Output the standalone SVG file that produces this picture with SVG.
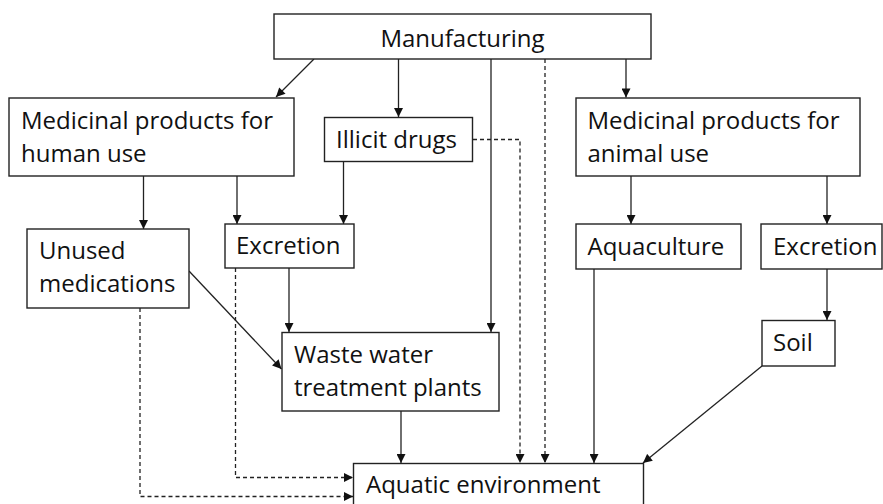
<svg xmlns="http://www.w3.org/2000/svg" width="883" height="504" viewBox="0 0 883 504">
<defs>
<marker id="ah" viewBox="0 0 10 10" refX="10" refY="5" markerWidth="10" markerHeight="9" markerUnits="userSpaceOnUse" orient="auto">
<path d="M0,0 L10,5 L0,10 z" fill="#111"/>
</marker>
<style>
.box{fill:#fff;stroke:#222;stroke-width:1.4}
.t{font-family:"Open Sans","Liberation Sans",sans-serif;font-size:24px;fill:#111}
.c{fill:none;stroke:#222;stroke-width:1.3;marker-end:url(#ah)}
.d{stroke-dasharray:4 3}
</style>
</defs>
<rect width="883" height="504" fill="#fff"/>
<g id="connectors">
<path class="c" d="M314,59 L276,97"/>
<path class="c" d="M398.5,59 V117"/>
<path class="c" d="M491,59 V332"/>
<path class="c d" d="M545,59 V463"/>
<path class="c" d="M626,59 V97.5"/>
<path class="c d" d="M473,139.5 H520 V463"/>
<path class="c" d="M143.5,176 V229"/>
<path class="c" d="M237,176 V224"/>
<path class="c" d="M343.5,161.5 V224"/>
<path class="c" d="M631,176 V224"/>
<path class="c" d="M827,176 V224"/>
<path class="c" d="M827,269 V320"/>
<path class="c" d="M594,269 V463"/>
<path class="c" d="M762,366 L643,463"/>
<path class="c" d="M289,268 V332"/>
<path class="c" d="M189,271 L281.5,369"/>
<path class="c d" d="M235.5,268 V477.5 H353"/>
<path class="c d" d="M140,308 V496.5 H353"/>
<path class="c" d="M401,411 V463"/>
</g>
<g id="manufacturing"><rect class="box" x="274" y="14" width="377" height="45"/><text class="t" x="462.5" y="46.5" text-anchor="middle">Manufacturing</text></g>
<g id="human"><rect class="box" x="9" y="98" width="285" height="78"/><text class="t" x="21" y="128.5">Medicinal products for</text><text class="t" x="21" y="161.5">human use</text></g>
<g id="illicit"><rect class="box" x="324.5" y="117.5" width="148" height="44"/><text class="t" x="336" y="148">Illicit drugs</text></g>
<g id="animal"><rect class="box" x="576" y="98" width="284" height="78"/><text class="t" x="587.5" y="128.5">Medicinal products for</text><text class="t" x="587.5" y="161.5">animal use</text></g>
<g id="unused"><rect class="box" x="27" y="229" width="162" height="79"/><text class="t" x="39" y="258.5">Unused</text><text class="t" x="39" y="292">medications</text></g>
<g id="excretion-human"><rect class="box" x="225" y="224" width="129" height="44"/><text class="t" x="236" y="253.5">Excretion</text></g>
<g id="aquaculture"><rect class="box" x="576" y="224" width="165" height="45"/><text class="t" x="587.5" y="255">Aquaculture</text></g>
<g id="excretion-animal"><rect class="box" x="761" y="224" width="121" height="45"/><text class="t" x="773" y="255">Excretion</text></g>
<g id="soil"><rect class="box" x="762" y="320.5" width="73" height="45.5"/><text class="t" x="773" y="350.5">Soil</text></g>
<g id="wwtp"><rect class="box" x="282" y="332.5" width="217" height="78.5"/><text class="t" x="294" y="362.5">Waste water</text><text class="t" x="294" y="395.5">treatment plants</text></g>
<g id="aquatic"><rect class="box" x="353.5" y="463.5" width="290" height="50"/><text class="t" x="366" y="493">Aquatic environment</text></g>
</svg>
